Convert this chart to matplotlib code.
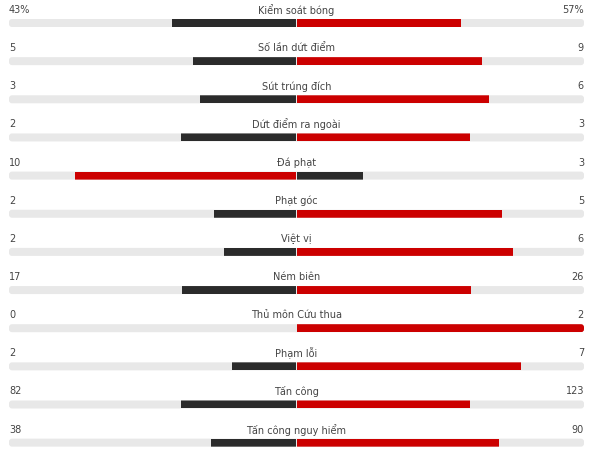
import matplotlib.pyplot as plt
from matplotlib.patches import FancyBboxPatch

# =========================
# Data
# =========================
labels = [
    "Kiểm soát bóng", "Số lần dứt điểm", "Sút trúng đích", "Dứt điểm ra ngoài",
    "Đá phạt", "Phạt góc", "Việt vị", "Ném biên", "Thủ môn Cứu thua",
    "Phạm lỗi", "Tấn công", "Tấn công nguy hiểm",
]
home = [43, 5, 3, 2, 10, 2, 2, 17, 0, 2, 82, 38]
away = [57, 9, 6, 3, 3, 5, 6, 26, 2, 7, 123, 90]
home_text = ["43%", "5", "3", "2", "10", "2", "2", "17", "0", "2", "82", "38"]
away_text = ["57%", "9", "6", "3", "3", "5", "6", "26", "2", "7", "123", "90"]

RED = "#cc0000"
DARK = "#2b2b2b"
TRACK = "#e8e8e8"
TEXT = "#444444"

# =========================
# Layout (pixel units)
# =========================
W, H = 592, 456
x0, x1 = 9, 584
cx = (x0 + x1) / 2
half = (x1 - x0) / 2
row0, step, bar_h = 24, 38.15, 8

fig = plt.figure(figsize=(W / 100, H / 100), dpi=100)
ax = fig.add_axes([0, 0, 1, 1])
ax.set_xlim(0, W)
ax.set_ylim(H, 0)
ax.axis("off")

for i, lab in enumerate(labels):
    yc = row0 + i * step
    total = home[i] + away[i]
    lw = half * home[i] / total if total else 0
    rw = half * away[i] / total if total else 0
    lcol = RED if home[i] > away[i] else DARK
    rcol = RED if away[i] > home[i] else DARK

    track = FancyBboxPatch((x0, yc - bar_h / 2), x1 - x0, bar_h,
                           boxstyle="round,pad=0,rounding_size=3",
                           fc=TRACK, ec="none")
    ax.add_patch(track)
    lb = ax.barh(yc, -lw, left=cx - 0.5, height=bar_h, color=lcol, lw=0)
    rb = ax.barh(yc, rw, left=cx + 0.5, height=bar_h, color=rcol, lw=0)
    for b in list(lb) + list(rb):
        b.set_clip_path(track)

    ty = yc - 14
    ax.text(cx, ty, lab, ha="center", va="center", fontsize=7, color=TEXT)
    ax.text(x0, ty, home_text[i], ha="left", va="center", fontsize=7, color=TEXT)
    ax.text(x1, ty, away_text[i], ha="right", va="center", fontsize=7, color=TEXT)

fig.savefig("out.png", dpi=100)
